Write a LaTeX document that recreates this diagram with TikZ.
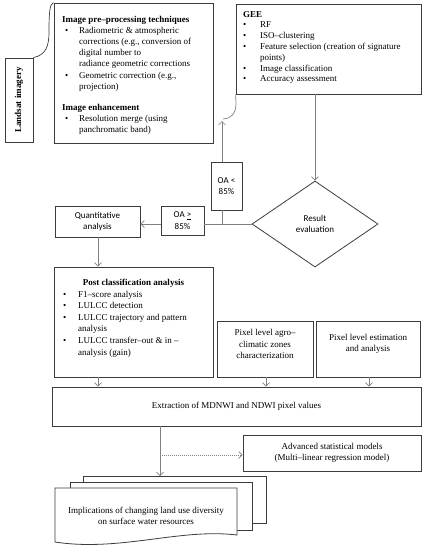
\documentclass[tikz,border=0pt]{standalone}
\usepackage{fontspec}
\setmainfont{Liberation Serif}
\newfontfamily\calib{Carlito}
\usetikzlibrary{arrows.meta,shapes.geometric}
\definecolor{boxc}{HTML}{3C3C3C}
\definecolor{arrc}{HTML}{808080}
\newcommand\bul{\hspace*{3pt}\textbullet}
\newcommand\gbul{\textbullet}
\begin{document}
\begin{tikzpicture}[x=1pt,y=-1pt,
  box/.style={draw=boxc, line width=0.8pt, inner sep=0pt},
  arr/.style={draw=arrc, line width=0.7pt, -{Straight Barb[length=3.5pt,width=7pt]}},
  ln/.style={draw=arrc, line width=0.7pt},
  txt/.style={font=\fontsize{9}{11.2}\selectfont, inner sep=0pt},
  stxt/.style={font=\calib\fontsize{9}{11.5}\selectfont, inner sep=0pt, align=center}]
\useasboundingbox (0,0) rectangle (428,550);

% boxes
\node[box, minimum width=159pt, minimum height=140pt] (pre) at (133.5,73) {};
\node[box, minimum width=28pt, minimum height=84pt] (land) at (19,100) {};
\node[txt, rotate=90, font=\bfseries\fontsize{9}{11}\selectfont] (landt) at (19,100) {Landsat imagery};
\node[box, minimum width=185pt, minimum height=90pt] (gee) at (328.5,49) {};
\node[box, stxt, minimum width=31pt, minimum height=48pt] (oal) at (226.5,186) {OA <\\85\%};
\node[box, diamond, minimum width=126pt, minimum height=86pt, stxt] (res) at (315,224) {Result\\evaluation};
\node[box, stxt, minimum width=43pt, minimum height=29pt] (oag) at (182.5,220.5) {OA \underline{>}\\85\%};
\node[box, stxt, minimum width=85pt, minimum height=31pt] (quant) at (97.5,221.5) {Quantitative\\analysis};
\node[box, minimum width=159pt, minimum height=110pt] (post) at (133.5,322) {};
\node[box, txt, align=center, minimum width=96pt, minimum height=56pt, text depth=10pt] (agro) at (265,349) {Pixel level agro–\\climatic zones\\characterization};
\node[box, txt, align=center, minimum width=104pt, minimum height=56pt] (est) at (368,349) {};
\node[txt, align=center] (estt) at (368,344) {Pixel level estimation\\and analysis};
\node[box, txt, minimum width=369pt, minimum height=39pt] (ext) at (236.5,406.5) {Extraction of MDNWI and NDWI pixel values};
\node[box, txt, align=center, minimum width=178pt, minimum height=36pt] (adv) at (332,453) {Advanced statistical models\\(Multi–linear regression model)};

% multi-document
\draw[boxc, line width=0.8pt] (83,482) -- (83,476) -- (266,476) -- (266,523) -- (252,523);
\draw[boxc, line width=0.8pt] (70,488) -- (70,482) -- (252,482) -- (252,530) -- (237,530);
\draw[boxc, line width=0.8pt, fill=white] (55,488) -- (237,488) -- (237,535)
   .. controls (180,528) and (120,552) .. (55,542) -- cycle;
\node[txt, align=center] (impl) at (146,516) {Implications of changing land use diversity\\on surface water resources};

% texts in list boxes
\node[txt, anchor=base west] (pretxt) at (62,22) {\begin{tabular}[t]{@{}p{17pt}@{}l@{}}
\multicolumn{2}{@{}l@{}}{\textbf{Image pre–processing techniques}}\\
\bul & Radiometric \& atmospheric\\
 & corrections (e.g., conversion of\\
 & digital number to\\
 & radiance geometric corrections\\
\bul & Geometric correction (e.g.,\\
 & projection)\\[9.8pt]
\multicolumn{2}{@{}l@{}}{\textbf{Image enhancement}}\\
\bul & Resolution merge (using\\
 & panchromatic band)
\end{tabular}};
\node[txt, anchor=base west, font=\fontsize{9}{10.8}\selectfont] (geetxt) at (243,17) {\begin{tabular}[t]{@{}p{17pt}@{}l@{}}
\multicolumn{2}{@{}l@{}}{\textbf{GEE}}\\
\gbul & RF\\
\gbul & ISO–clustering\\
\gbul & Feature selection (creation of signature\\
 & points)\\
\gbul & Image classification\\
\gbul & Accuracy assessment
\end{tabular}};
\node[txt, anchor=base, font=\bfseries\fontsize{9}{11}\selectfont] (posttitle) at (133.5,285) {Post classification analysis};
\node[txt, anchor=base west, font=\fontsize{9}{11.6}\selectfont] (posttxt) at (63,297) {\begin{tabular}[t]{@{}p{15pt}@{}l@{}}
\textbullet & F1–score analysis\\
\textbullet & LULCC detection\\
\textbullet & LULCC trajectory and pattern\\
 & analysis\\
\textbullet & LULCC transfer–out \& in –\\
 & analysis (gain)
\end{tabular}};

% connectors
\draw[boxc, line width=0.7pt] (land.north east) .. controls (46,55) and (49,46) .. (49,32)
   .. controls (49,10) and (50,4) .. (pre.north west);
\coordinate (gc) at (222,121);
\draw[arrc, line width=0.7pt] (gee.south west) -- (236,104) .. controls (236,114) and (230,119) .. (223,119);
\draw[arr] (oal.north -| gc) -- (gc);
\draw[arr] (gee.south -| res.north) -- (res.north);
\coordinate (jn) at (222,224);
\draw[ln] (res.west) -- (oag.east |- res.west);
\draw[ln] (oal.south -| jn) -- (jn);
\draw[arr] (oag.west |- jn) -- (quant.east |- jn);
\coordinate (cx) at (98,0);
\draw[arr] (quant.south -| cx) -- (post.north -| cx);
\draw[arr] (post.south -| cx) -- (ext.north -| cx);
\coordinate (cx2) at (266,0);
\draw[arr] (agro.south -| cx2) -- (ext.north -| cx2);
\coordinate (cx3) at (369,0);
\draw[arr] (est.south -| cx3) -- (ext.north -| cx3);
\coordinate (dtop) at (160,476);
\draw[arr] (ext.south -| dtop) -- (dtop);
\coordinate (dm) at (160,455);
\draw[arr, dash pattern=on 1pt off 1pt] (dm) -- (adv.west |- dm);
\end{tikzpicture}
\end{document}
